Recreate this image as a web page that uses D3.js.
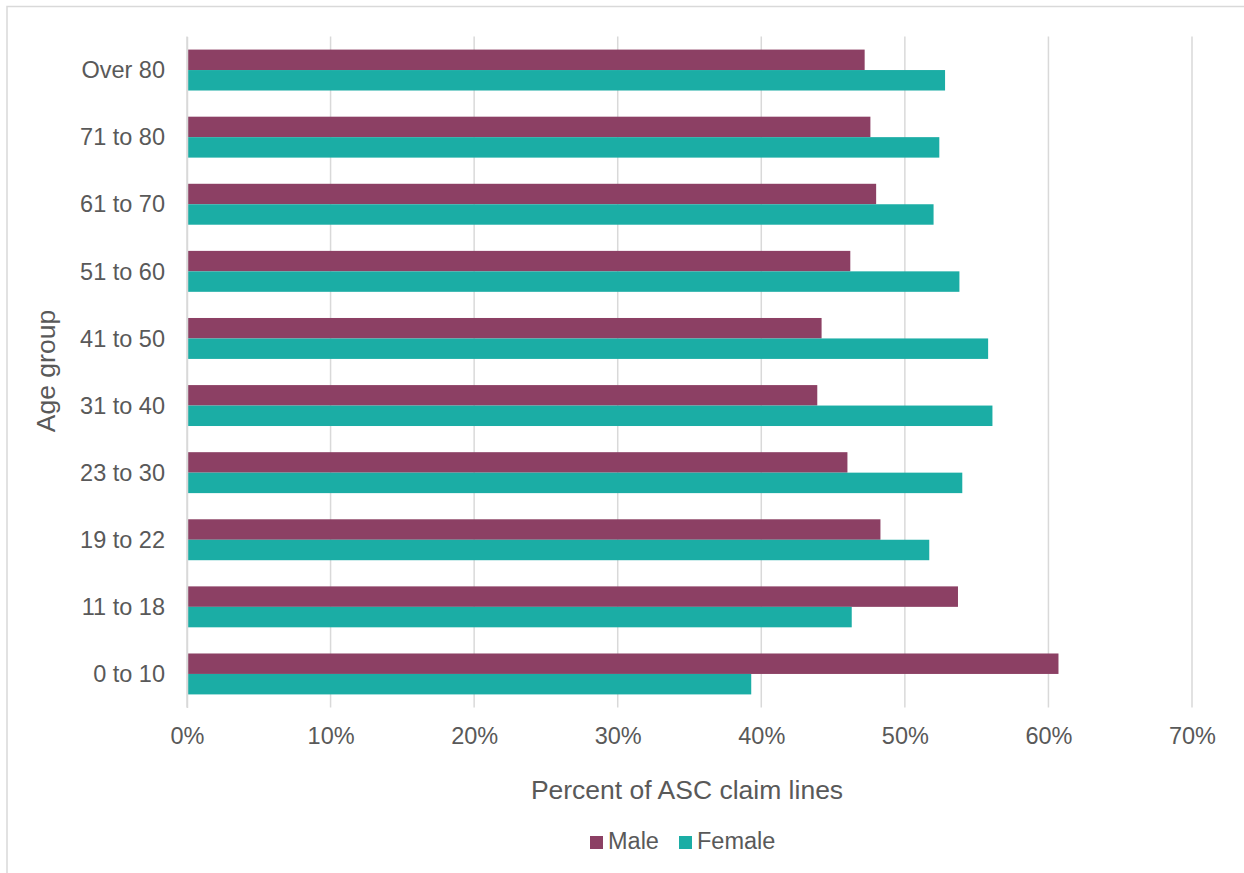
<!DOCTYPE html>
<html>
<head>
<meta charset="utf-8">
<script src="https://cdn.jsdelivr.net/npm/d3@7"></script>
<style>
  html, body { margin: 0; padding: 0; background: #fff; }
  svg { display: block; font-family: "Liberation Sans", Arial, sans-serif; }
</style>
</head>
<body>
<svg id="chart" width="1244" height="873"></svg>
<script>
// Age groups, top to bottom
const ageGroups = ["Over 80", "71 to 80", "61 to 70", "51 to 60", "41 to 50",
                   "31 to 40", "23 to 30", "19 to 22", "11 to 18", "0 to 10"];
// Share of ASC claim lines (%)
const maleValues   = [47.2, 47.6, 48.0, 46.2, 44.2, 43.9, 46.0, 48.3, 53.7, 60.7];
const femaleValues = [52.8, 52.4, 52.0, 53.8, 55.8, 56.1, 54.0, 51.7, 46.3, 39.3];
const seriesNames = ["Male", "Female"];
const xTicks = [0, 10, 20, 30, 40, 50, 60, 70];

const colors = { Male: "#8C4064", Female: "#1BADA5" };
const textColor = "#595959";

const svg = d3.select("#chart");
const W = 1244, H = 873;
const margin = { left: 187, right: W - 1192, top: 36.5, bottom: H - 707.5 };

// Outer chart frame
svg.append("rect")
  .attr("x", 7).attr("y", 6.5)
  .attr("width", W + 20).attr("height", H + 20)
  .attr("fill", "#fff").attr("stroke", "#D9D9D9").attr("stroke-width", 1.5);

const x = d3.scaleLinear().domain([0, 70]).range([margin.left, W - margin.right]);
const y = d3.scaleBand().domain(ageGroups).range([margin.top, H - margin.bottom])
  .paddingInner(0.39).paddingOuter(0.195);
const ySub = d3.scaleBand().domain(seriesNames).range([0, y.bandwidth()]);

// Vertical gridlines
svg.append("g")
  .selectAll("line")
  .data(xTicks)
  .join("line")
  .attr("x1", d => x(d)).attr("x2", d => x(d))
  .attr("y1", margin.top).attr("y2", H - margin.bottom)
  .attr("stroke", "#D9D9D9").attr("stroke-width", 1.5);

// Bars
const rows = ageGroups.map((g, i) => ({ group: g, Male: maleValues[i], Female: femaleValues[i] }));
const rowG = svg.append("g").selectAll("g")
  .data(rows)
  .join("g")
  .attr("transform", d => `translate(0,${y(d.group)})`);

rowG.selectAll("rect")
  .data(d => seriesNames.map(s => ({ s, v: d[s] })))
  .join("rect")
  .attr("x", x(0))
  .attr("y", d => ySub(d.s))
  .attr("width", d => x(d.v) - x(0))
  .attr("height", ySub.bandwidth())
  .attr("fill", d => colors[d.s]);

// X axis tick labels
const xAxis = d3.axisBottom(x).tickValues(xTicks).tickFormat(d => d + "%").tickSize(0).tickPadding(0);
const gx = svg.append("g").attr("transform", `translate(0,${H - margin.bottom})`).call(xAxis);
gx.select(".domain").remove();
gx.selectAll("text")
  .attr("y", 36).attr("dy", 0)
  .attr("fill", textColor).style("font-size", "23.5px")
  .style("font-family", '"Liberation Sans", Arial, sans-serif');

// Y axis category labels
const yAxis = d3.axisLeft(y).tickSize(0).tickPadding(22);
const gy = svg.append("g").attr("transform", `translate(${margin.left},0)`).call(yAxis);
gy.select(".domain").attr("stroke", "#D9D9D9").attr("stroke-width", 1.5);
gy.selectAll("text")
  .attr("dy", "0.35em")
  .attr("fill", textColor).style("font-size", "23.5px")
  .style("font-family", '"Liberation Sans", Arial, sans-serif');

// Axis titles
svg.append("text")
  .attr("x", 687).attr("y", 799)
  .attr("text-anchor", "middle")
  .attr("fill", textColor).style("font-size", "26.5px")
  .text("Percent of ASC claim lines");

svg.append("text")
  .attr("transform", "translate(55,371) rotate(-90)")
  .attr("text-anchor", "middle")
  .attr("fill", textColor).style("font-size", "26.5px")
  .text("Age group");

// Legend
const legendItems = [
  { name: "Male", sx: 590 },
  { name: "Female", sx: 679 }
];
const lg = svg.append("g").selectAll("g").data(legendItems).join("g");
lg.append("rect")
  .attr("x", d => d.sx).attr("y", 836)
  .attr("width", 13).attr("height", 13)
  .attr("fill", d => colors[d.name]);
lg.append("text")
  .attr("x", d => d.sx + 18).attr("y", 849)
  .attr("fill", textColor).style("font-size", "23.5px")
  .text(d => d.name);
</script>
</body>
</html>
